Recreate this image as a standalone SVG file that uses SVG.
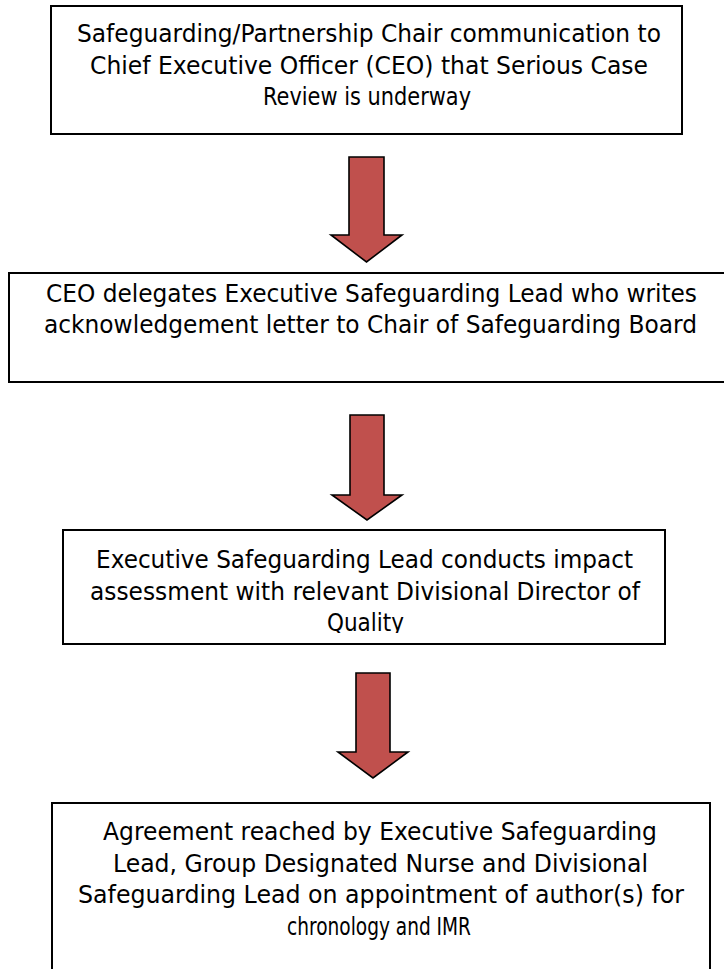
<svg xmlns="http://www.w3.org/2000/svg" width="724" height="969" viewBox="0 0 724 969">
<style>
.box{fill:#fff;stroke:#000;stroke-width:2}
.arr{fill:#C0504D;stroke:#000;stroke-width:1.6;stroke-linejoin:miter}
.t{font-family:"DejaVu Sans",sans-serif;font-size:24px;fill:#000;text-anchor:middle}
</style>
<defs>
<clipPath id="c3"><rect x="60" y="530" width="610" height="103"/></clipPath>
</defs>
<rect width="724" height="969" fill="#fff"/>
<g id="connectors">
<path class="arr" d="M349,157 H384 V235 H402 L366.5,262 L331,235 H349 Z"/>
<path class="arr" d="M350,415 H384 V495 H402 L367,520 L332,495 H350 Z"/>
<path class="arr" d="M356,673 H390 V752 H408 L373,778 L338,752 H356 Z"/>
</g>
<g id="node1">
<rect class="box" x="51" y="6" width="631" height="128"/>
<text class="t" x="369" y="42" textLength="584" lengthAdjust="spacingAndGlyphs">Safeguarding/Partnership Chair communication to</text>
<text class="t" x="369" y="74" textLength="558" lengthAdjust="spacingAndGlyphs">Chief Executive Officer (CEO) that Serious Case</text>
<text class="t" x="367" y="105" textLength="208" lengthAdjust="spacingAndGlyphs">Review is underway</text>
</g>
<g id="node2">
<rect class="box" x="9" y="273" width="730" height="109"/>
<text class="t" x="371.5" y="302" textLength="651" lengthAdjust="spacingAndGlyphs">CEO delegates Executive Safeguarding Lead who writes</text>
<text class="t" x="370.5" y="333" textLength="653" lengthAdjust="spacingAndGlyphs">acknowledgement letter to Chair of Safeguarding Board</text>
</g>
<g id="node3">
<rect class="box" x="63" y="530" width="602" height="114"/>
<g clip-path="url(#c3)">
<text class="t" x="364.5" y="568" textLength="537" lengthAdjust="spacingAndGlyphs">Executive Safeguarding Lead conducts impact</text>
<text class="t" x="365" y="600" textLength="550" lengthAdjust="spacingAndGlyphs">assessment with relevant Divisional Director of</text>
<text class="t" x="365.5" y="631" textLength="77" lengthAdjust="spacingAndGlyphs">Quality</text>
</g>
</g>
<g id="node4">
<rect class="box" x="52" y="803" width="658" height="200"/>
<text class="t" x="380" y="840" textLength="554" lengthAdjust="spacingAndGlyphs">Agreement reached by Executive Safeguarding</text>
<text class="t" x="380.5" y="872" textLength="535" lengthAdjust="spacingAndGlyphs">Lead, Group Designated Nurse and Divisional</text>
<text class="t" x="381" y="903" textLength="606" lengthAdjust="spacingAndGlyphs">Safeguarding Lead on appointment of author(s) for</text>
<text class="t" x="379" y="935" textLength="184" lengthAdjust="spacingAndGlyphs">chronology and IMR</text>
</g>
</svg>
